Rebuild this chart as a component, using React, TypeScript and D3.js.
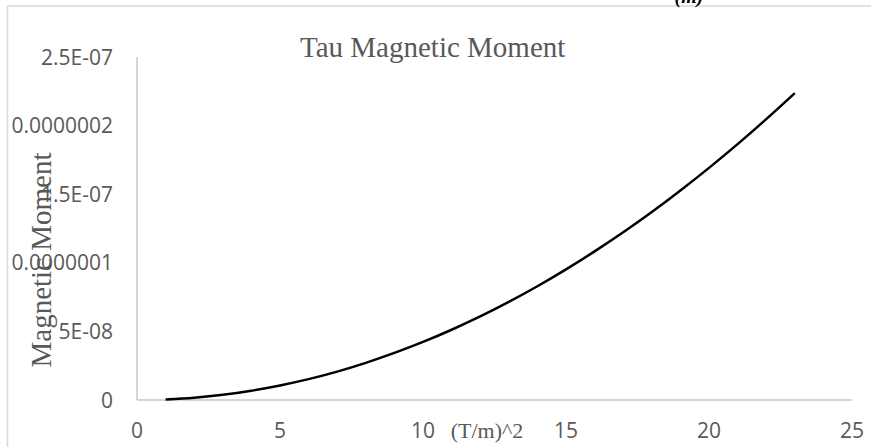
import React from "react";
import * as d3 from "d3";

const xValues = [1, 2, 3, 4, 5, 6, 7, 8, 9, 10, 11, 12, 13, 14, 15, 16, 17, 18, 19, 20, 21, 22, 23];
const momentValues = [
  0.04e-8, 0.17e-8, 0.38e-8, 0.68e-8, 1.06e-8, 1.52e-8, 2.07e-8, 2.71e-8, 3.43e-8, 4.23e-8,
  5.12e-8, 6.09e-8, 7.15e-8, 8.29e-8, 9.52e-8, 10.83e-8, 12.22e-8, 13.7e-8, 15.27e-8, 16.92e-8,
  18.65e-8, 20.47e-8, 22.37e-8,
];
const xTicks = [0, 5, 10, 15, 20, 25];
const yTicks = [0, 5e-8, 1e-7, 1.5e-7, 2e-7, 2.5e-7];
const yTickLabels = ["0", "5E-08", "0.0000001", "1.5E-07", "0.0000002", "2.5E-07"];

const W = 871;
const H = 447;
const left = 137;
const right = 852;
const top = 57;
const bottom = 400;

export default function App() {
  const x = d3.scaleLinear().domain([0, 25]).range([left, right]);
  const y = d3.scaleLinear().domain([0, 2.5e-7]).range([bottom, top]);
  const line = d3
    .line<number>()
    .x((_, i) => x(xValues[i]))
    .y((d) => y(d))
    .curve(d3.curveMonotoneX);
  const axisColor = "#c8c8c8";
  const textColor = "#595959";
  const sans = "'Open Sans', 'Liberation Sans', sans-serif";
  const serif = "'Liberation Serif', 'DejaVu Serif', serif";
  return (
    <svg
      width={W}
      height={H}
      style={{ position: "fixed", left: 0, top: 0, background: "#fff" }}
    >
      <rect x={0} y={0} width={W} height={H} fill="#fff" />
      <line x1={7.5} y1={6} x2={W} y2={6} stroke="#d9d9d9" strokeWidth={1.5} />
      <line x1={7.5} y1={6} x2={7.5} y2={H} stroke="#d9d9d9" strokeWidth={1.5} />
      <text
        x={689}
        y={3}
        fontFamily={serif}
        fontSize={20}
        fontWeight="bold"
        fontStyle="italic"
        textAnchor="middle"
        fill="#000"
      >
        (m)
      </text>
      <line x1={x(0)} y1={y(0)} x2={x(25)} y2={y(0)} stroke={axisColor} strokeWidth={1.5} />
      <line x1={x(0)} y1={y(0)} x2={x(0)} y2={y(2.5e-7)} stroke={axisColor} strokeWidth={1.5} />
      {yTicks.map((t, i) => (
        <text
          key={"y" + i}
          x={113}
          y={y(t)}
          dy="0.36em"
          textAnchor="end"
          fontFamily={sans}
          fontSize={21}
          fill={textColor}
        >
          {yTickLabels[i]}
        </text>
      ))}
      {xTicks.map((t) => (
        <text
          key={"x" + t}
          x={x(t)}
          y={438}
          textAnchor="middle"
          fontFamily={sans}
          fontSize={21}
          fill={textColor}
        >
          {t}
        </text>
      ))}
      <text
        x={300}
        y={57}
        textAnchor="start"
        fontFamily={serif}
        fontSize={29}
        fill={textColor}
      >
        Tau Magnetic Moment
      </text>
      <text
        x={487}
        y={438}
        textAnchor="middle"
        fontFamily={serif}
        fontSize={22}
        fill={textColor}
      >
        (T/m)^2
      </text>
      <text
        transform={`translate(51, 260) rotate(-90)`}
        textAnchor="middle"
        fontFamily={serif}
        fontSize={29}
        fill={textColor}
      >
        Magnetic Moment
      </text>
      <path d={line(momentValues) || ""} fill="none" stroke="#000" strokeWidth={2.5} />
    </svg>
  );
}
